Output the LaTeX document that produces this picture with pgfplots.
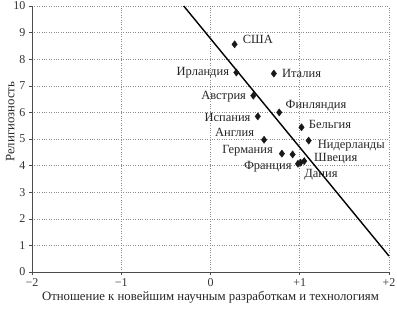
\documentclass[border=0pt]{standalone}
\usepackage{fontspec}
\setmainfont{Liberation Serif}
\usepackage{pgfplots}
\pgfplotsset{compat=1.18}
\begin{document}
\begin{tikzpicture}
\begin{axis}[
  name=ax,
  scale only axis,
  width=357pt, height=266pt,
  xmin=-2, xmax=2, ymin=0, ymax=10,
  axis x line*=bottom, axis y line*=left,
  axis line style={black!70, line width=0.8pt},
  xtick={-2,-1,0,1,2},
  xticklabels={−2,−1,0,+1,+2},
  ytick={0,1,...,10},
  tick align=outside,
  major tick length=3pt,
  tick style={black!70, line width=0.6pt},
  grid=major,
  grid style={dotted, black!45, line width=0.6pt},
  /pgf/number format/assume math mode=true,
  ticklabel style={font=\fontsize{12}{14}\selectfont, text=black!80},
  xlabel={Отношение к новейшим научным разработкам и технологиям},
  ylabel={Религиозность},
  label style={font=\fontsize{12.8}{15}\selectfont, text=black!85},
  xlabel style={at={(axis description cs:0.5,0)}, anchor=north, yshift=-16pt},
  ylabel style={at={(axis description cs:0,0.565)}, anchor=south, xshift=0pt, yshift=14pt},
  clip=false,
]
\addplot[black, line width=1.4pt, no marks] coordinates {(-0.30,10) (2,0.6)};
\addplot[only marks, mark=diamond*, mark size=3.6pt, black!90] coordinates {
  (0.27,8.56) (0.29,7.50) (0.71,7.46) (0.48,6.63) (0.77,6.00) (0.53,5.85)
  (1.02,5.44) (0.60,4.97) (1.10,4.94) (0.80,4.45) (0.92,4.42)
  (0.98,4.07) (1.01,4.11) (1.05,4.17)
};
\begin{scope}[every node/.style={font=\fontsize{12.5}{15}\selectfont, text=black!85, inner sep=0pt}]
\node[anchor=west] at (axis cs:0.36,8.73) {США};
\node[anchor=east] at (axis cs:0.21,7.49) {Ирландия};
\node[anchor=west] at (axis cs:0.80,7.47) {Италия};
\node[anchor=east] at (axis cs:0.40,6.60) {Австрия};
\node[anchor=west] at (axis cs:0.84,6.25) {Финляндия};
\node[anchor=east] at (axis cs:0.45,5.82) {Испания};
\node[anchor=west] at (axis cs:1.10,5.54) {Бельгия};
\node[anchor=center] at (axis cs:0.27,5.25) {Англия};
\node[anchor=west] at (axis cs:1.20,4.73) {Нидерланды};
\node[anchor=east] at (axis cs:0.70,4.57) {Германия};
\node[anchor=west] at (axis cs:1.16,4.26) {Швеция};
\node[anchor=east] at (axis cs:0.91,3.94) {Франция};
\node[anchor=west] at (axis cs:1.05,3.67) {Дания};
\end{scope}
\end{axis}
\pgfresetboundingbox
\path ([xshift=-32pt,yshift=-39pt]ax.south west) rectangle ([xshift=8pt,yshift=6pt]ax.north east);
\end{tikzpicture}
\end{document}
